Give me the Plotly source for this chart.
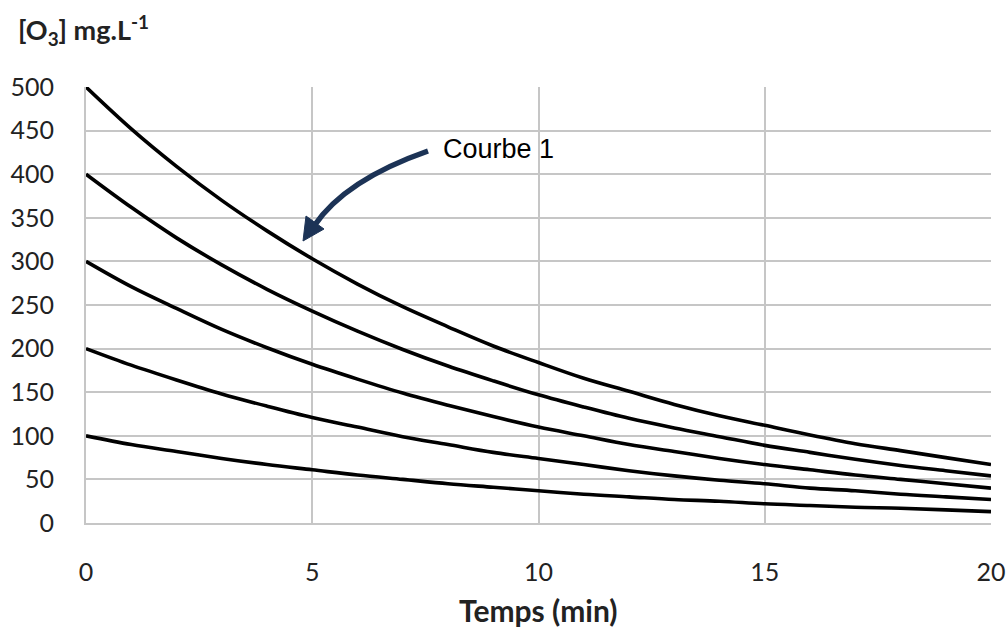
import plotly.graph_objects as go

# Time axis (min)
temps = list(range(0, 21))

# Ozone concentration curves (mg/L)
courbe_500 = [500, 452, 409, 370, 335, 303, 274, 248, 225, 203, 184, 166, 151, 136, 123, 112, 101, 91, 83, 75, 67]
courbe_400 = [400, 362, 327, 296, 268, 243, 220, 199, 180, 163, 147, 133, 120, 109, 99, 89, 81, 73, 66, 60, 54]
courbe_300 = [300, 271, 246, 222, 201, 182, 165, 149, 135, 122, 110, 100, 90, 82, 74, 67, 61, 55, 50, 45, 40]
courbe_200 = [200, 181, 164, 148, 134, 121, 110, 99, 90, 81, 74, 67, 60, 54, 49, 45, 40, 37, 33, 30, 27]
courbe_100 = [100, 90, 82, 74, 67, 61, 55, 50, 45, 41, 37, 33, 30, 27, 25, 22, 20, 18, 17, 15, 13]

series = [courbe_500, courbe_400, courbe_300, courbe_200, courbe_100]

x_ticks = [0, 5, 10, 15, 20]
y_ticks = [0, 50, 100, 150, 200, 250, 300, 350, 400, 450, 500]

fig = go.Figure()
for s in series:
    fig.add_trace(go.Scatter(x=temps, y=s, mode="lines",
                             line=dict(color="black", width=3.6, shape="spline", smoothing=1.0),
                             showlegend=False, hoverinfo="skip"))

W, H = 1008, 628
L, R, T, B = 86, 17, 87, 105
pw, ph = W - L - R, H - T - B

def px2x(px):
    return (px - L) / pw * 20

def py2y(py):
    return (H - B - py) / ph * 500

arrow_color = "#1c3356"
# curved arrow body
x0, y0 = px2x(428), py2y(151)
xc, yc = px2x(345), py2y(180)
x1, y1 = px2x(314), py2y(226)
fig.add_shape(type="path", xref="x", yref="y",
              path=f"M {x0},{y0} Q {xc},{yc} {x1},{y1}",
              line=dict(color=arrow_color, width=5.5))
# arrowhead
tx, ty = px2x(303), py2y(241)
b1x, b1y = px2x(324), py2y(229)
b2x, b2y = px2x(306), py2y(216)
fig.add_shape(type="path", xref="x", yref="y",
              path=f"M {tx},{ty} L {b1x},{b1y} L {b2x},{b2y} Z",
              fillcolor=arrow_color, line=dict(color=arrow_color, width=1))

fig.add_annotation(x=px2x(441), y=py2y(149), xref="x", yref="y",
                   text="Courbe 1", showarrow=False, xanchor="left", yanchor="middle",
                   font=dict(family="Liberation Sans, Arial", size=27, color="black"))

fig.add_annotation(xref="paper", yref="paper", x=(16 - L) / pw, y=(H - B - 30) / ph,
                   text="<b>[O<sub>3</sub>] mg.L<sup>-1</sup></b>", showarrow=False,
                   xanchor="left", yanchor="middle",
                   font=dict(family="Lato", size=27, color="#222"))

fig.add_annotation(xref="paper", yref="paper", x=(538 - L) / pw, y=(H - B - 610) / ph,
                   text="<b>Temps (min)</b>", showarrow=False,
                   xanchor="center", yanchor="middle",
                   font=dict(family="Lato", size=30, color="#222"))

grid = "#c6c6c6"
fig.update_layout(
    width=W, height=H,
    margin=dict(l=L, r=R, t=T, b=B, autoexpand=False),
    paper_bgcolor="white", plot_bgcolor="white",
    font=dict(family="Lato", size=25, color="#222"),
    xaxis=dict(range=[0, 20], tickvals=x_ticks, showgrid=True, gridcolor=grid, gridwidth=2,
               showline=True, linecolor=grid, linewidth=2, zeroline=False, automargin=False,
               ticks="", ticklabelstandoff=26, fixedrange=True),
    yaxis=dict(range=[0, 500], tickvals=y_ticks, showgrid=True, gridcolor=grid, gridwidth=2,
               showline=True, linecolor=grid, linewidth=2, zeroline=False, automargin=False,
               ticks="", ticklabelstandoff=25, fixedrange=True),
)

fig.write_html("out.html", config={"displayModeBar": False},
               post_script="document.body.style.margin='0';document.body.style.overflow='hidden';")
